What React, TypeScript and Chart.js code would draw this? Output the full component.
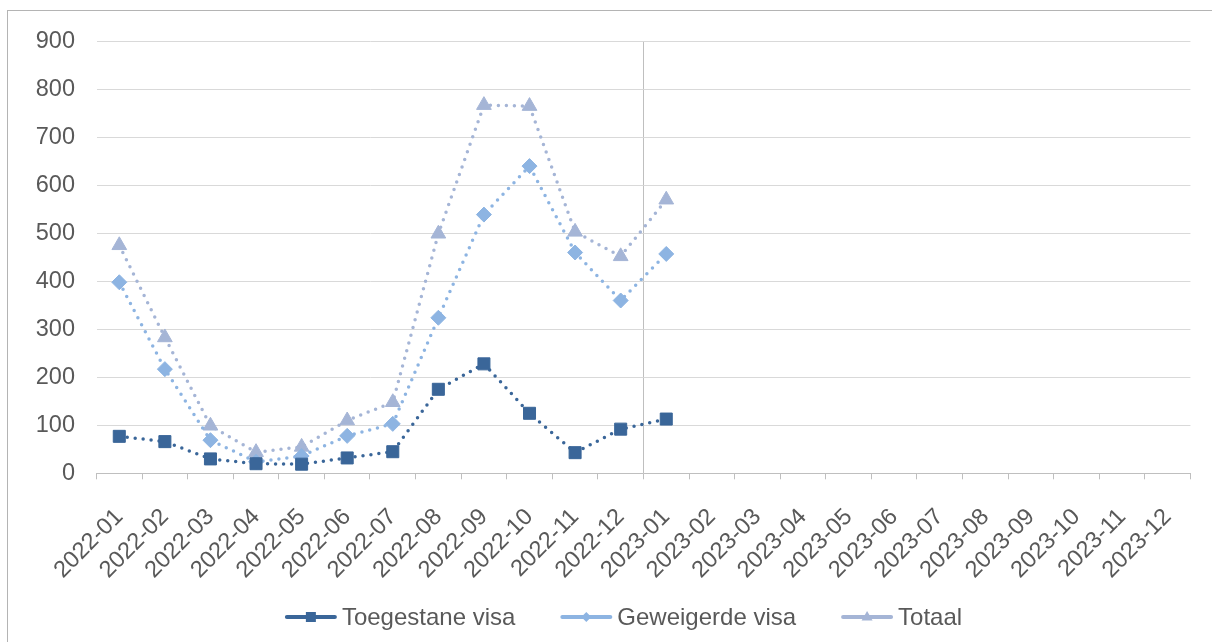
import React, { useEffect, useRef } from 'react';
import { Chart, registerables } from 'chart.js';

Chart.register(...registerables);

// ---- Data ----
const months = [
  '2022-01', '2022-02', '2022-03', '2022-04', '2022-05', '2022-06',
  '2022-07', '2022-08', '2022-09', '2022-10', '2022-11', '2022-12',
  '2023-01', '2023-02', '2023-03', '2023-04', '2023-05', '2023-06',
  '2023-07', '2023-08', '2023-09', '2023-10', '2023-11', '2023-12',
];
const toegestaneVisa = [77, 66, 30, 20, 19, 32, 45, 175, 228, 125, 43, 92, 113];
const geweigerdeVisa = [398, 217, 69, 24, 36, 78, 103, 324, 539, 640, 460, 360, 457];
const totaal = [475, 283, 99, 44, 55, 110, 148, 499, 767, 765, 503, 452, 570];
const yTicks = [0, 100, 200, 300, 400, 500, 600, 700, 800, 900];

const seriesNames = ['Toegestane visa', 'Geweigerde visa', 'Totaal'];
const seriesColors = ['#3A6699', '#8DB4E2', '#A5B5D6'];
const seriesMarkers = ['rect', 'rectRot', 'triangle'];
const seriesMarkerSizes = [8.5, 7.5, 8.5];

const FONT = '"Liberation Sans", Arial, sans-serif';
const TEXT_COLOR = '#595959';

const borderPlugin = {
  id: 'outerBorder',
  beforeDraw(chart: any) {
    const ctx = chart.ctx;
    ctx.save();
    ctx.strokeStyle = '#B4B4B4';
    ctx.lineWidth = 1;
    ctx.strokeRect(7.5, 10.5, 1210, 640);
    ctx.restore();
  },
};

function drawMarker(ctx: CanvasRenderingContext2D, style: string, x: number, y: number, color: string) {
  ctx.fillStyle = color;
  ctx.beginPath();
  if (style === 'rect') {
    ctx.rect(x - 5, y - 5, 10, 10);
  } else if (style === 'rectRot') {
    ctx.moveTo(x - 5, y);
    ctx.lineTo(x, y - 5);
    ctx.lineTo(x + 5, y);
    ctx.lineTo(x, y + 5);
    ctx.closePath();
  } else {
    ctx.moveTo(x, y - 6);
    ctx.lineTo(x + 5.5, y + 3.5);
    ctx.lineTo(x - 5.5, y + 3.5);
    ctx.closePath();
  }
  ctx.fill();
}

const legendPlugin = {
  id: 'lineLegend',
  afterDraw(chart: any) {
    const ctx: CanvasRenderingContext2D = chart.ctx;
    ctx.save();
    ctx.font = '24px ' + FONT;
    const iconW = 52;
    const gapIcon = 5;
    const gapItem = 45;
    const items = chart.data.datasets.map((ds: any) => ({
      label: ds.label as string,
      color: ds.borderColor as string,
      style: ds.pointStyle as string,
      w: ctx.measureText(ds.label).width,
    }));
    const total =
      items.reduce((s: number, it: any) => s + iconW + gapIcon + it.w, 0) + gapItem * (items.length - 1);
    let x = 623.5 - total / 2;
    const y = 617;
    for (const it of items) {
      ctx.strokeStyle = it.color;
      ctx.lineWidth = 4;
      ctx.lineCap = 'round';
      ctx.setLineDash([]);
      ctx.beginPath();
      ctx.moveTo(x + 2, y);
      ctx.lineTo(x + iconW - 2, y);
      ctx.stroke();
      drawMarker(ctx, it.style, x + iconW / 2, y, it.color);
      ctx.fillStyle = TEXT_COLOR;
      ctx.textBaseline = 'middle';
      ctx.textAlign = 'left';
      ctx.fillText(it.label, x + iconW + gapIcon, y + 1);
      x += iconW + gapIcon + it.w + gapItem;
    }
    ctx.restore();
  },
};

export default function App() {
  const canvasRef = useRef<HTMLCanvasElement | null>(null);

  useEffect(() => {
    if (!canvasRef.current) return;
    const seriesData = [toegestaneVisa, geweigerdeVisa, totaal];
    const chart = new Chart(canvasRef.current, {
      type: 'line',
      data: {
        labels: months,
        datasets: seriesNames.map((name, i) => ({
          label: name,
          data: seriesData[i],
          borderColor: seriesColors[i],
          backgroundColor: seriesColors[i],
          borderWidth: 3.5,
          borderDash: [0, 8],
          borderCapStyle: 'round' as const,
          tension: 0,
          fill: false,
          pointStyle: seriesMarkers[i] as any,
          pointRadius: seriesMarkerSizes[i],
          pointHoverRadius: seriesMarkerSizes[i],
          pointBackgroundColor: seriesColors[i],
          pointBorderColor: seriesColors[i],
          pointBorderWidth: 1,
        })),
      },
      options: {
        animation: false,
        responsive: true,
        maintainAspectRatio: false,
        layout: { padding: { left: 30, right: 20, top: 41.3, bottom: 0 } },
        plugins: {
          legend: { display: false },
          tooltip: { enabled: false },
        },
        scales: {
          x: {
            offset: true,
            grid: {
              offset: true,
              color: (c: any) => (c.index === 12 ? '#BFBFBF' : 'rgba(0,0,0,0)'),
              tickColor: '#BFBFBF',
              tickLength: 6,
              lineWidth: 1,
            },
            border: { color: '#BFBFBF', width: 1 },
            ticks: {
              autoSkip: false,
              maxRotation: 45,
              minRotation: 45,
              color: TEXT_COLOR,
              font: { family: FONT, size: 23.5 },
              padding: 24,
              labelOffset: 0,
            },
            afterFit: (s: any) => {
              s.height = 168.7;
            },
          },
          y: {
            min: 0,
            max: 900,
            afterBuildTicks: (s: any) => {
              s.ticks = yTicks.map((v) => ({ value: v }));
            },
            ticks: {
              color: TEXT_COLOR,
              font: { family: FONT, size: 23.5 },
              padding: 21.5,
            },
            grid: { color: '#D9D9D9', drawTicks: false, lineWidth: 1 },
            border: { display: false },
            afterFit: (s: any) => {
              s.width = 66.5;
            },
          },
        },
      },
      plugins: [borderPlugin, legendPlugin],
    });
    return () => chart.destroy();
  }, []);

  return (
    <div style={{ position: 'fixed', left: 0, top: 0, width: '1212px', height: '642px', background: '#fff' }}>
      <canvas ref={canvasRef} />
    </div>
  );
}
